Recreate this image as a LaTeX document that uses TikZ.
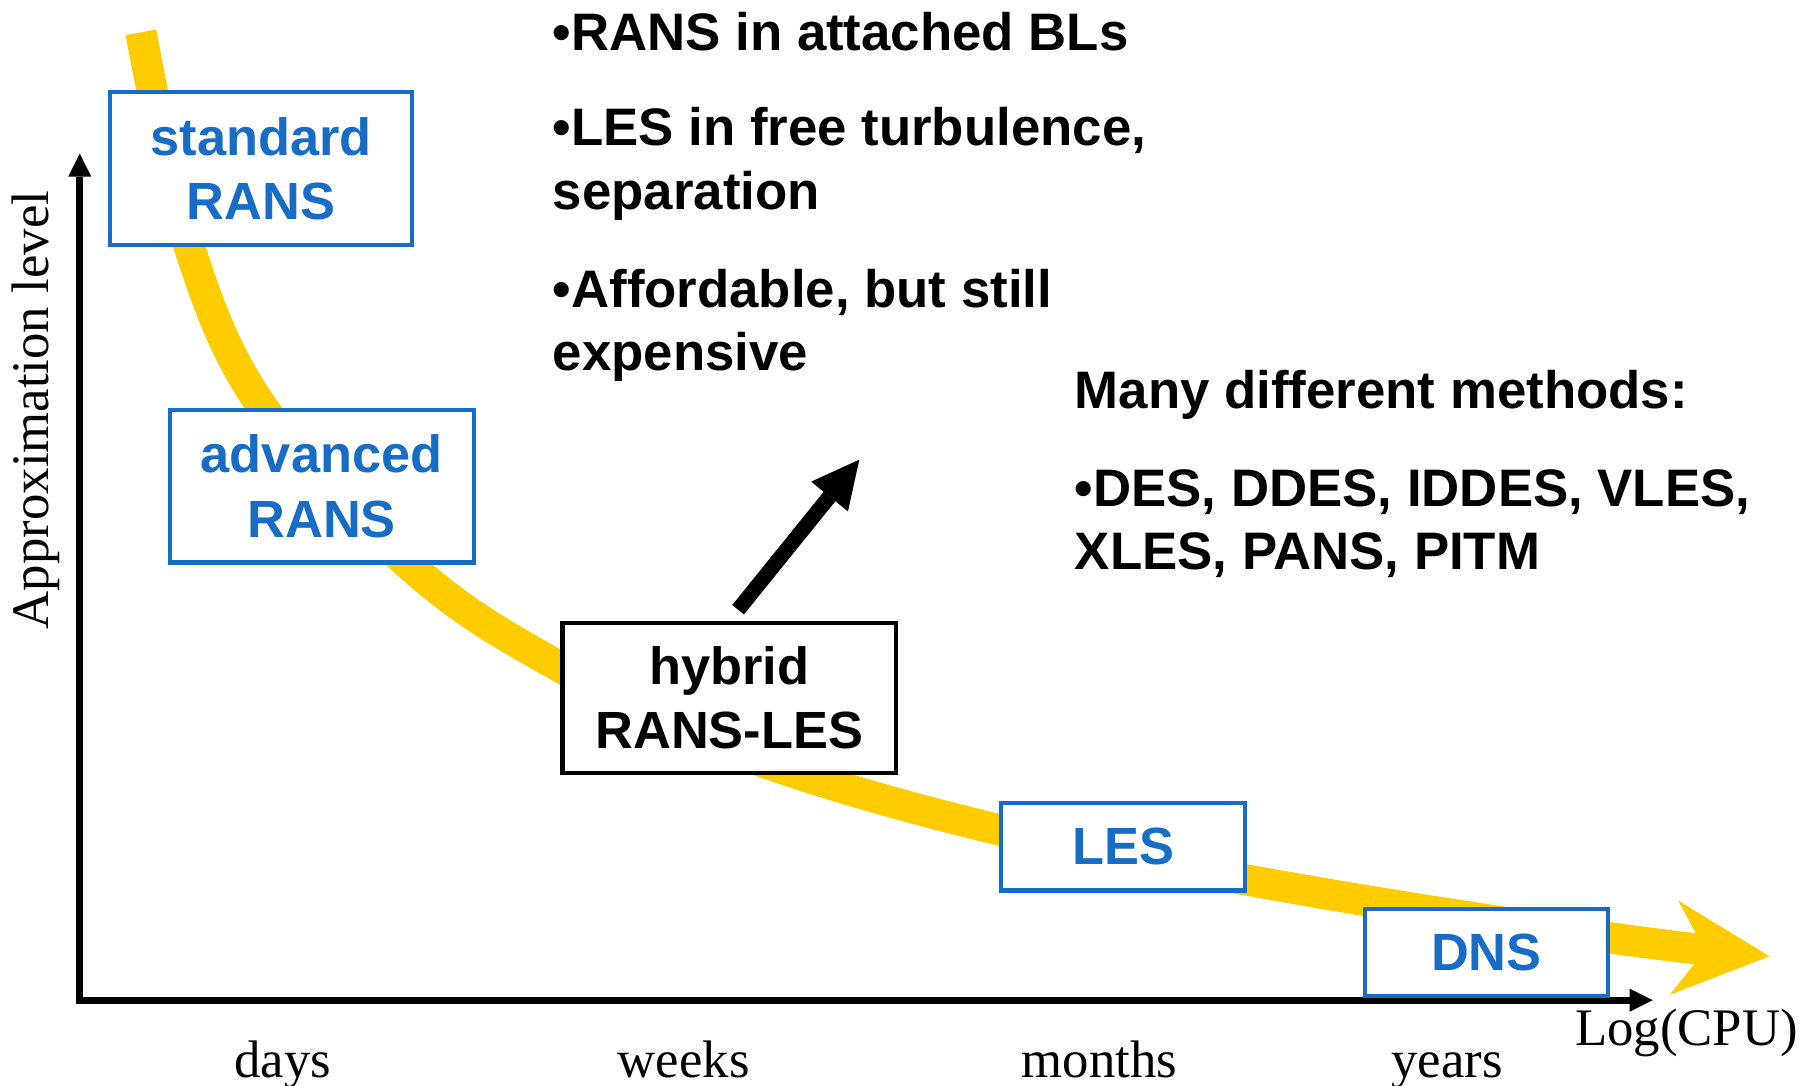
\documentclass[tikz,border=0pt]{standalone}
\usepackage{fontspec}
\setmainfont{Liberation Serif}
\setsansfont{Liberation Sans}
\usetikzlibrary{arrows.meta}
\definecolor{ransblue}{RGB}{23,108,197}
\definecolor{curveyellow}{RGB}{255,204,0}

\begin{document}
\begin{tikzpicture}[x=0.1mm, y=-0.1mm,
    box/.style={draw=ransblue, line width=1pt, fill=white, text=ransblue,
      align=center, inner sep=0pt,
      font=\sffamily\bfseries\fontsize{12.9}{15.9}\selectfont},
    hybridbox/.style={box, draw=black, text=black},
    note/.style={anchor=base west, align=left, inner sep=0pt,
      font=\sffamily\bfseries\fontsize{13}{15.6}\selectfont},
    tick/.style={anchor=base, inner sep=0pt, font=\fontsize{13}{15}\selectfont},
    axis/.style={line width=1.7pt,
      {Triangle[length=2mm,width=2mm,line width=0pt]}-{Triangle[length=2mm,width=2mm,line width=0pt]}},
    band/.style={curveyellow, line width=2.7mm,
      -{Stealth[length=8.3mm,width=8.2mm,inset=2.7mm,line width=0pt]}},
    push/.style={line width=1.3mm, -{Triangle[length=4.1mm,width=4.1mm,line width=0pt]}}]
    \useasboundingbox (0,0) rectangle (1568,940);

    % axes
    \coordinate (origin) at (69,866);
    \coordinate (ytop) at (69,133);
    \coordinate (xend) at (1431,866);
    \draw[axis] (ytop) -- (origin) -- (xend);
    \node[tick, rotate=90] (ylabel) at (42,355) {Approximation level};
    \node[tick, anchor=base west] (xlabel) at (1363,905) {Log(CPU)};
    \node[tick] (days) at (245,933) {days};
    \node[tick] (weeks) at (592,933) {weeks};
    \node[tick] (months) at (952,933) {months};
    \node[tick] (years) at (1253,933) {years};

    % cost curve
    \draw[band] plot[smooth, tension=0.6] coordinates {(122,28) (164,214) (229,355)
      (361,495) (486,578) (645,654) (867,719) (1125,770) (1394,812) (1532,828)};

    % methods
    \node[box, minimum width=26.2mm, minimum height=13.2mm] (std) at (226,146) {standard\\RANS};
    \node[box, minimum width=26.3mm, minimum height=13.2mm] (adv) at (278.5,421) {advanced\\RANS};
    \node[hybridbox, minimum width=28.9mm, minimum height=13mm] (hybrid) at (631.5,604) {hybrid\\RANS-LES};
    \node[box, minimum width=21.1mm, minimum height=7.6mm] (les) at (972.5,733) {LES};
    \node[box, minimum width=21mm, minimum height=7.5mm] (dns) at (1287,824.5) {DNS};

    % notes (base = last line)
    \node[note] (attached) at (478,44) {•RANS in attached BLs};
    \node[note] (free) at (478,181) {•LES in free turbulence,\\separation};
    \node[note] (cost) at (478,321) {•Affordable, but still\\expensive};
    \node[note] (many) at (930,354) {Many different methods:};
    \node[note] (list) at (930,493) {•DES, DDES, IDDES, VLES,\\XLES, PANS, PITM};

    \coordinate (aim) at (744,398);
    \draw[push, shorten <=1.2mm] (hybrid.north) -- (aim);
\end{tikzpicture}
\end{document}
